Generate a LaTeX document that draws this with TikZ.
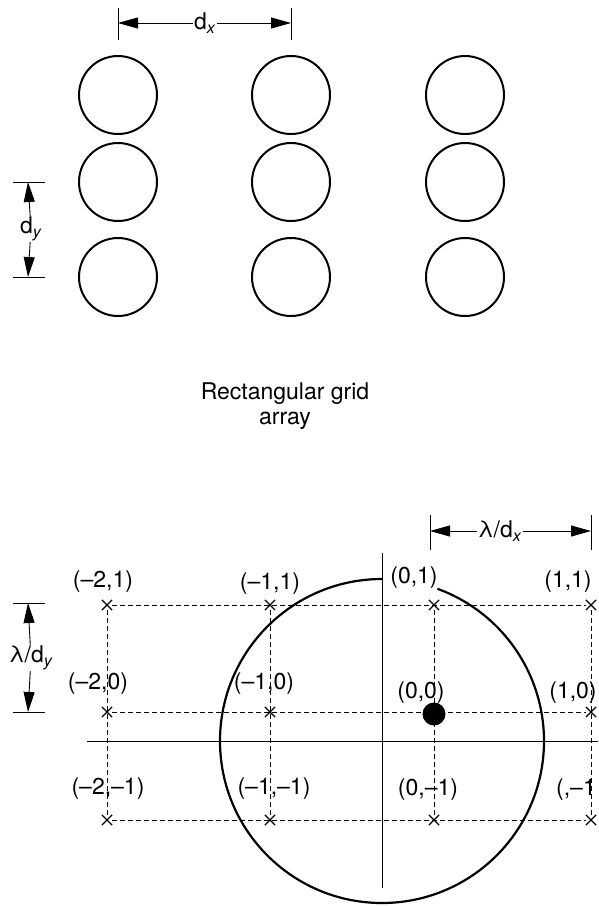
\documentclass[tikz,border=0pt]{standalone}
\usepackage{fontspec}
\setmainfont{TeX Gyre Heros}
\usetikzlibrary{arrows.meta,positioning,shapes.misc}

\begin{document}
\begin{tikzpicture}[
  x=1pt, y=1pt,
  font=\fontsize{23}{25}\selectfont,
  elem/.style={draw, circle, line width=2pt, minimum size=78pt, inner sep=0pt},
  dim/.style={-{Triangle[length=20pt,width=11pt]}, line width=0.9pt},
  tick/.style={line width=1pt},
  lbl/.style={inner sep=1pt, fill=white},
  xmark/.style={draw, cross out, minimum size=9pt, inner sep=0pt, line width=1.2pt},
  gridline/.style={dash pattern=on 5pt off 3pt, line width=0.8pt},
  axis/.style={line width=1pt}
]
\useasboundingbox (0,0) rectangle (598,-906);

% rectangular grid of elements
\node[elem] (e11) at (118,-95) {};
\node[elem] (e12) at (291,-95) {};
\node[elem] (e13) at (465,-95) {};
\node[elem] (e21) at (118,-182) {};
\node[elem] (e22) at (291,-182) {};
\node[elem] (e23) at (465,-182) {};
\node[elem] (e31) at (118,-277) {};
\node[elem] (e32) at (291,-277) {};
\node[elem] (e33) at (465,-277) {};

% spacing d_x
\coordinate (dxl) at (118,-23);
\coordinate (dxr) at (291,-23);
\draw[tick] ([yshift=15pt]dxl) -- ([yshift=-17pt]dxl);
\draw[tick] ([yshift=15pt]dxr) -- ([yshift=-17pt]dxr);
\node[lbl] (dxlab) at (205,-23) {d\textsubscript{\textit{x}}};
\draw[dim] (dxlab) -- (dxl);
\draw[dim] (dxlab) -- (dxr);

% spacing d_y
\coordinate (dyt) at (28,-182);
\coordinate (dyb) at (28,-277);
\draw[tick] ([xshift=-15pt]dyt) -- ([xshift=17pt]dyt);
\draw[tick] ([xshift=-15pt]dyb) -- ([xshift=17pt]dyb);
\node[lbl] (dylab) at (31,-229) {d\textsubscript{\textit{y}}};
\draw[dim] (dylab) -- (dyt);
\draw[dim] (dylab) -- (dyb);

\node[align=center] (caption) at (285,-406) {Rectangular grid\\array};

% grating lobe diagram
\coordinate (xl) at (87,-741);
\coordinate (xr) at (598,-741);
\coordinate (yt) at (382,-553);
\coordinate (yb) at (382,-888);
\draw[axis] (xl) -- (xr);
\draw[axis] (yt) -- (yb);
\coordinate (o) at (382,-741);
\draw[line width=2.2pt] (o) ++(90:162) arc[start angle=90, end angle=430, radius=162];

\node[xmark] (At) at (107,-605) {};
\node[xmark] (Am) at (107,-712) {};
\node[xmark] (Ab) at (107,-820) {};
\node[xmark] (Bt) at (270,-605) {};
\node[xmark] (Bm) at (270,-712) {};
\node[xmark] (Bb) at (270,-820) {};
\node[xmark] (Ct) at (434,-605) {};
\node[circle, fill, minimum size=23pt, inner sep=0pt] (Cm) at (434,-714) {};
\node[xmark] (Cb) at (434,-820) {};
\node[xmark] (Dt) at (591,-605) {};
\node[xmark] (Dm) at (591,-712) {};
\node[xmark] (Db) at (591,-820) {};

\draw[gridline] (At) -- (Dt);
\draw[gridline] (Am) -- (Dm);
\draw[gridline] (Ab) -- (Db);
\draw[gridline] (At) -- (Ab);
\draw[gridline] (Bt) -- (Bb);
\draw[gridline] (Ct) -- (Cb);
\draw[gridline] (Dt) -- (Db);

\node (lAt) at (103,-582) {(--2,1)};
\node (lBt) at (270,-584) {(--1,1)};
\node (lCt) at (414,-578) {(0,1)};
\node (lDt) at (568,-582) {(1,1)};
\node (lAm) at (98,-684) {(--2,0)};
\node (lBm) at (264,-684) {(--1,0)};
\node (lCm) at (421,-693) {(0,0)};
\node (lDm) at (573,-693) {(1,0)};
\node (lAb) at (108,-789) {(--2,--1)};
\node (lBb) at (274,-789) {(--1,--1)};
\node (lCb) at (428,-790) {(0,--1)};
\node (lDb) at (576,-790) {(,--1};

% spacing lambda/d_x
\coordinate (lxl) at (430,-531);
\coordinate (lxr) at (591,-531);
\draw[tick] ([yshift=16pt]lxl) -- ([yshift=-19pt]lxl);
\draw[tick] ([yshift=16pt]lxr) -- ([yshift=-19pt]lxr);
\node[lbl] (lxlab) at (500,-531) {λ/d\textsubscript{\textit{x}}};
\draw[dim] (lxlab) -- (lxl);
\draw[dim] (lxlab) -- (lxr);

% spacing lambda/d_y
\coordinate (lyt) at (28,-603);
\coordinate (lyb) at (28,-712);
\draw[tick] ([xshift=-15pt]lyt) -- ([xshift=17pt]lyt);
\draw[tick] ([xshift=-15pt]lyb) -- ([xshift=17pt]lyb);
\node[lbl] (lylab) at (31,-658) {λ/d\textsubscript{\textit{y}}};
\draw[dim] (lylab) -- (lyt);
\draw[dim] (lylab) -- (lyb);
\end{tikzpicture}
\end{document}
